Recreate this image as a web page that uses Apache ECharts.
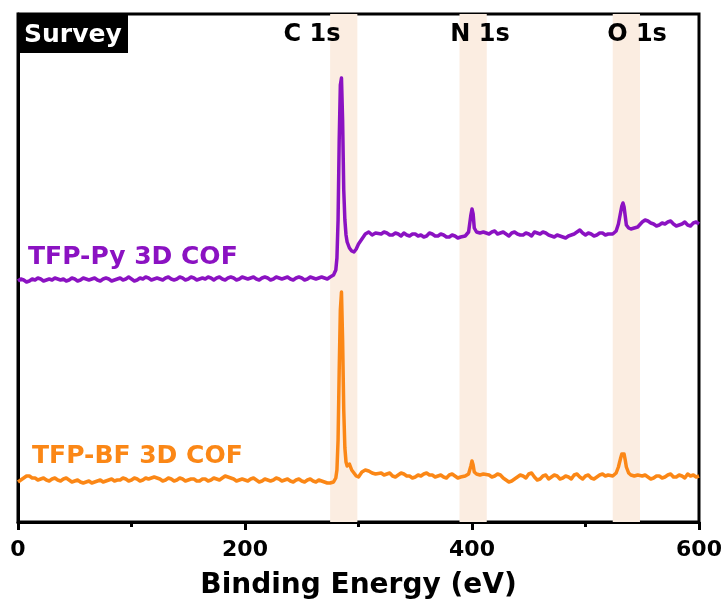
<!DOCTYPE html>
<html>
<head>
<meta charset="utf-8">
<script src="https://cdn.jsdelivr.net/npm/echarts@6/dist/echarts.min.js"></script>
<style>
html,body{margin:0;padding:0;background:#fff;}
#chart{width:726px;height:610px;}
</style>
</head>
<body>
<div id="chart"></div>
<script>
// Binding energy grid (eV), written out by spectral segment
const energy = [
  // 0 - 275
  0,2.5,5,7.5,10,12.5,15,17.5,20,22.5,25,27.5,30,32.5,35,37.5,40,42.5,45,47.5,50,52.5,55,57.5,60,62.5,65,67.5,70,72.5,75,77.5,80,82.5,85,87.5,90,92.5,95,97.5,
  100,102.5,105,107.5,110,112.5,115,117.5,120,122.5,125,127.5,130,132.5,135,137.5,140,142.5,145,147.5,150,152.5,155,157.5,160,162.5,165,167.5,170,172.5,175,177.5,180,182.5,185,187.5,190,192.5,195,197.5,
  200,202.5,205,207.5,210,212.5,215,217.5,220,222.5,225,227.5,230,232.5,235,237.5,240,242.5,245,247.5,250,252.5,255,257.5,260,262.5,265,267.5,270,272.5,275,
  // C 1s
  278,280,281,282,283,284,285,286,287,288,289,290,292,294,296,298,300,303,306,309,312,315,
  // 320 - 390
  320,322.5,325,327.5,330,332.5,335,337.5,340,342.5,345,347.5,350,352.5,355,357.5,360,362.5,365,367.5,370,372.5,375,377.5,380,382.5,385,387.5,390,
  // N 1s
  394,397,399,400,401,402,404,407,410,
  // 415 - 520
  415,417.5,420,422.5,425,427.5,430,432.5,435,437.5,440,442.5,445,447.5,450,452.5,455,457.5,460,462.5,465,467.5,470,472.5,475,477.5,480,482.5,485,487.5,490,492.5,495,497.5,500,502.5,505,507.5,510,512.5,515,517.5,520,
  // O 1s
  524,527,529,531,532,533,534,535,536,538,540,543,546,550,
  // 552.5 - 600
  552.5,555,557.5,560,562.5,565,567.5,570,572.5,575,577.5,580,582.5,585,587.5,590,592.5,595,597.5,600
];
// Intensity (a.u., offset stack) – TFP-Py 3D COF
const pyIntensity = [
  239,241,240,238,239,241,240,242,241,239,240,241,240,242,241,240,241,239,240,242,241,239,240,242,241,240,241,242,240,239,241,242,241,239,240,241,242,240,241,243,
  241,239,240,242,241,243,242,240,241,242,241,240,242,243,241,240,241,243,242,240,241,243,242,240,241,242,241,243,242,240,242,243,241,240,242,243,242,240,241,243,
  242,241,242,243,241,240,242,243,242,240,241,243,242,241,242,243,241,240,242,243,242,240,241,243,242,241,242,243,242,241,243,
  245,250,262,300,380,435,442,400,330,300,285,278,272,269,268,271,276,281,286,288,285,287,
  286,288,287,285,285,287,286,284,287,285,284,286,286,284,285,283,284,287,286,284,284,286,285,283,283,285,284,282,283,
  284,288,305,311,306,292,288,287,288,
  286,288,289,286,287,288,286,284,287,288,286,285,285,287,286,284,288,287,286,288,287,285,284,283,285,284,283,282,284,285,286,288,290,287,285,287,286,284,285,287,287,285,286,
  286,289,296,308,314,317,313,304,295,292,291,292,293,298,
  300,299,297,296,294,295,297,296,298,299,296,294,295,296,298,295,294,297,298,296
];
// Intensity (a.u.) – TFP-BF 3D COF
const bfIntensity = [
  38,40,42,44,44,42,42,40,41,42,40,39,41,42,40,39,41,42,40,38,39,40,38,37,38,39,37,38,39,40,38,39,40,41,39,40,40,42,41,39,
  40,42,41,39,40,42,41,42,43,42,41,39,40,42,41,39,40,42,41,39,40,41,41,39,39,41,41,39,40,42,41,40,42,44,43,42,41,39,40,41,
  40,39,41,42,40,38,39,41,40,39,40,42,41,39,40,41,39,38,40,41,39,38,40,41,39,38,40,39,38,37,37,
  38,42,50,80,150,210,228,180,110,72,58,54,56,50,47,44,43,48,50,49,47,46,
  47,45,46,47,44,43,45,47,46,44,44,42,43,45,44,46,47,45,45,43,44,45,43,42,45,46,44,42,43,
  44,46,54,59,55,48,46,45,46,
  45,43,44,46,45,42,40,38,39,41,43,45,44,42,46,47,43,40,41,44,45,41,43,45,44,41,42,44,43,41,45,46,43,41,44,45,42,41,43,45,46,44,45,
  44,47,53,62,66,68,66,60,53,47,45,44,45,44,
  45,43,41,42,44,44,42,43,45,46,43,43,45,44,42,46,44,45,43,44
];
// Highlighted regions (eV)
const bandNames = ['C 1s','N 1s','O 1s'];
const bandStart = [275, 389, 524];
const bandEnd = [299, 413, 548];
const xTicks = [0, 200, 400, 600];

const FONT = 'DejaVu Sans';
const chart = echarts.init(document.getElementById('chart'), null, {renderer:'canvas'});

const pyData = energy.map((e,i)=>[e, pyIntensity[i]]);
const bfData = energy.map((e,i)=>[e, bfIntensity[i]]);

const option = {
  animation:false,
  backgroundColor:'#ffffff',
  grid:{left:18, right:27, top:14, bottom:88, show:true, borderColor:'#000', borderWidth:3, backgroundColor:'transparent'},
  xAxis:{
    type:'value', min:xTicks[0], max:xTicks[xTicks.length-1], interval:200,
    axisLine:{show:true, onZero:false, lineStyle:{color:'#000', width:3}},
    axisTick:{show:true, inside:false, length:8, lineStyle:{color:'#000', width:3}},
    minorTick:{show:true, splitNumber:2, length:5, lineStyle:{color:'#000', width:3}},
    axisLabel:{color:'#000', fontFamily:FONT, fontWeight:'bold', fontSize:22, margin:17},
    splitLine:{show:false},
    name:'Binding Energy (eV)', nameLocation:'middle', nameGap:50,
    nameTextStyle:{color:'#000', fontFamily:FONT, fontWeight:'bold', fontSize:28}
  },
  yAxis:{
    type:'value', min:-2, max:506,
    axisLine:{show:true, onZero:false, lineStyle:{color:'#000', width:3}},
    axisTick:{show:false}, axisLabel:{show:false}, splitLine:{show:false}
  },
  series:[
    {
      type:'line', name:'bands', data:[], z:1, silent:true,
      markArea:{
        silent:true,
        itemStyle:{color:'#fbede1'},
        data: bandStart.map((s,i)=>[{xAxis:s},{xAxis:bandEnd[i]}])
      }
    },
    {
      type:'line', name:'TFP-Py 3D COF', data:pyData, z:3, showSymbol:false, symbol:'none',
      lineStyle:{color:'#8b12c2', width:3.5, join:'round'}, itemStyle:{color:'#8b12c2'}
    },
    {
      type:'line', name:'TFP-BF 3D COF', data:bfData, z:3, showSymbol:false, symbol:'none',
      lineStyle:{color:'#fb8716', width:3.5, join:'round'}, itemStyle:{color:'#fb8716'}
    }
  ],
  graphic:[
    {type:'rect', left:18, top:14, shape:{width:110, height:39}, style:{fill:'#000'}, z:10},
    {type:'text', x:24, y:35, style:{text:'Survey', fill:'#fff', font:'bold 25px "DejaVu Sans"', textAlign:'left', textVerticalAlign:'middle'}, z:11},
    {type:'text', x:312, y:35, style:{text:bandNames[0], fill:'#000', font:'bold 24px "DejaVu Sans"', textAlign:'center', textVerticalAlign:'middle'}, z:11},
    {type:'text', x:480, y:35, style:{text:bandNames[1], fill:'#000', font:'bold 24px "DejaVu Sans"', textAlign:'center', textVerticalAlign:'middle'}, z:11},
    {type:'text', x:637, y:35, style:{text:bandNames[2], fill:'#000', font:'bold 24px "DejaVu Sans"', textAlign:'center', textVerticalAlign:'middle'}, z:11},
    {type:'text', x:28, y:257, style:{text:'TFP-Py 3D COF', fill:'#8b12c2', font:'bold 25px "DejaVu Sans"', textAlign:'left', textVerticalAlign:'middle'}, z:11},
    {type:'text', x:32, y:456, style:{text:'TFP-BF 3D COF', fill:'#fb8716', font:'bold 25px "DejaVu Sans"', textAlign:'left', textVerticalAlign:'middle'}, z:11}
  ]
};
chart.setOption(option);
</script>
</body>
</html>
